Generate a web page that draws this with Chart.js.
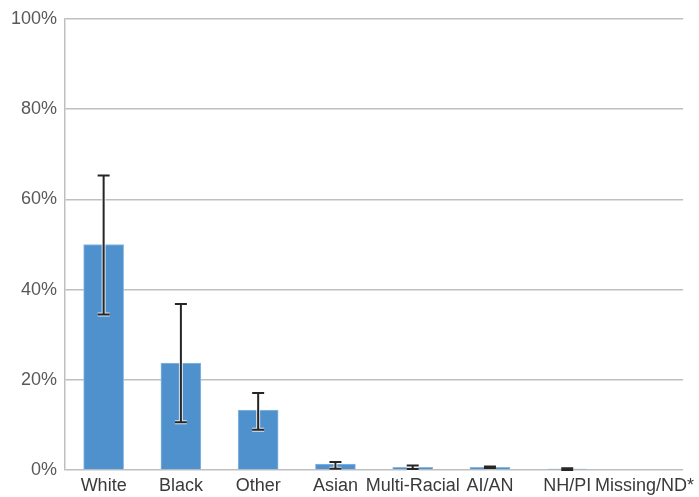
<!DOCTYPE html>
<html><head><meta charset="utf-8">
<script src="https://cdn.jsdelivr.net/npm/chart.js@4/dist/chart.umd.min.js"></script>
<style>html,body{margin:0;padding:0;background:#fff}#wrap{width:699px;height:497px}</style>
</head><body><div id="wrap"><canvas id="c"></canvas></div>
<script>
const categories = ['White','Black','Other','Asian','Multi-Racial','AI/AN','NH/PI','Missing/ND*'];
const values = [50.0, 23.7, 13.3, 1.3, 0.6, 0.6, 0.2, 0];
const errLow = [34.5, 10.6, 8.9, 0.3, 0.2, 0.4, 0.0, 0];
const errHigh = [65.3, 36.8, 17.1, 1.8, 1.0, 0.8, 0.4, 0];
const yTicks = [0, 20, 40, 60, 80, 100];

const errorBars = {
  id: 'errorBars',
  afterDatasetsDraw(chart) {
    const ctx = chart.ctx, y = chart.scales.y;
    const meta = chart.getDatasetMeta(0);
    ctx.save();
    meta.data.forEach((bar, i) => {
      if (errHigh[i] === 0 && errLow[i] === 0) return;
      const cx = bar.x;
      const yt = y.getPixelForValue(errHigh[i]);
      const yb = y.getPixelForValue(errLow[i]);
      const hw = 6;
      const seg = (w, col) => {
        ctx.strokeStyle = col; ctx.lineWidth = w; ctx.lineCap = 'butt';
        ctx.beginPath();
        ctx.moveTo(cx, yt); ctx.lineTo(cx, yb);
        ctx.moveTo(cx - hw, yt); ctx.lineTo(cx + hw, yt);
        ctx.moveTo(cx - hw, yb); ctx.lineTo(cx + hw, yb);
        ctx.stroke();
      };
      seg(4, 'rgba(255,255,255,0.8)');
      seg(2, '#262626');
    });
    ctx.restore();
  }
};

new Chart(document.getElementById('c'), {
  type: 'bar',
  data: {
    labels: categories,
    datasets: [{
      data: values,
      backgroundColor: '#4f91cd',
      borderColor: '#8bb7e1',
      borderWidth: 1,
      barThickness: 40
    }]
  },
  options: {
    responsive: true,
    maintainAspectRatio: false,
    animation: false,
    layout: { padding: { top: 19, right: 0, bottom: 0, left: 0 } },
    plugins: { legend: { display: false }, tooltip: { enabled: false } },
    scales: {
      x: {
        grid: { display: false, drawTicks: false },
        border: { display: false },
        ticks: { color: '#3a3a3a', font: { family: 'Liberation Sans', size: 18 }, padding: 5, maxRotation: 0, autoSkip: false },
        afterFit(s) { s.height = 27; s.paddingLeft = 0; }
      },
      y: {
        min: 0, max: 100,
        afterBuildTicks(s) { s.ticks = yTicks.map(v => ({ value: v })); },
        grid: { color: '#bfbfbf', lineWidth: 1.5, drawTicks: false },
        border: { display: true, color: '#bfbfbf', width: 1.5 },
        ticks: { color: '#595959', font: { family: 'Liberation Sans', size: 18 }, padding: 8, callback: v => v + '%' },
        afterFit(s) { s.width = 65; }
      }
    }
  },
  plugins: [errorBars]
});
</script></body></html>
